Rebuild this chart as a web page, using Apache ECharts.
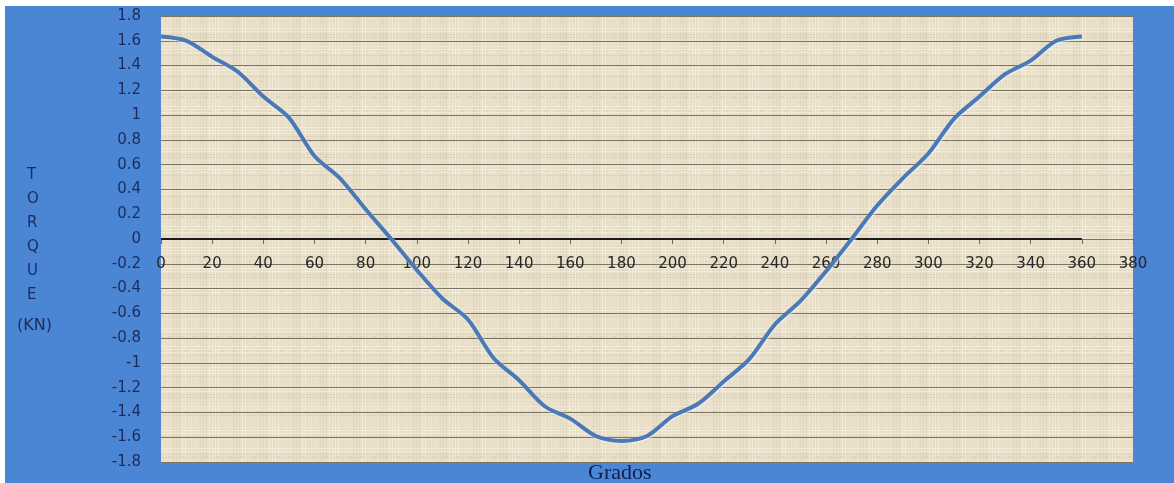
<!DOCTYPE html>
<html>
<head>
<meta charset="utf-8">
<script src="https://cdn.jsdelivr.net/npm/echarts@6/dist/echarts.min.js"></script>
<style>
  html, body { margin: 0; padding: 0; background: #ffffff; }
  #chart { position: absolute; left: 5px; top: 6px; width: 1169px; height: 477px; }
</style>
</head>
<body>
<div id="chart"></div>
<script>
// ---- data ----
const degrees = [0, 10, 20, 30, 40, 50, 60, 70, 80, 90, 100, 110, 120, 130, 140, 150, 160, 170, 180,
                 190, 200, 210, 220, 230, 240, 250, 260, 270, 280, 290, 300, 310, 320, 330, 340, 350, 360];
const torque = [1.635, 1.60, 1.47, 1.35, 1.15, 0.98, 0.67, 0.49, 0.24, 0.0, -0.25, -0.48, -0.65, -0.96,
                -1.14, -1.35, -1.45, -1.59, -1.63, -1.59, -1.43, -1.33, -1.15, -0.97, -0.69, -0.50,
                -0.26, 0.0, 0.27, 0.49, 0.69, 0.97, 1.15, 1.33, 1.44, 1.60, 1.635];
const xTicks = { min: 0, max: 380, step: 20 };
const yTicks = { min: -1.8, max: 1.8, step: 0.2 };
const zeroAxisSpan = [0, 360];       // black axis line drawn from 0 to 360 at torque 0
const yTitleLetters = ['T', 'O', 'R', 'Q', 'U', 'E'];
const yTitleUnit = '(KN)';
const xTitle = 'Grados';

// ---- linen-like texture for the plot area (decoration only) ----
function makeTexture() {
  const c = document.createElement('canvas');
  c.width = 60; c.height = 60;
  const g = c.getContext('2d');
  g.fillStyle = '#e8dec6';
  g.fillRect(0, 0, 60, 60);
  for (let i = 0; i < 60; i += 3) {
    const k = (i * 7) % 11;
    g.fillStyle = k < 4 ? 'rgba(255,252,244,0.40)' : (k < 7 ? 'rgba(175,168,150,0.12)' : 'rgba(246,240,226,0.25)');
    g.fillRect(i, 0, 1, 60);
    const m = (i * 5) % 13;
    g.fillStyle = m < 5 ? 'rgba(255,252,244,0.40)' : (m < 8 ? 'rgba(170,162,145,0.15)' : 'rgba(242,236,220,0.25)');
    g.fillRect(0, i + 1, 60, 1);
  }
  for (let i = 0; i < 60; i += 4) {
    for (let j = 0; j < 60; j += 5) {
      if (((i * 3 + j * 7) % 9) === 0) {
        g.fillStyle = 'rgba(150,145,130,0.25)';
        g.fillRect(i, j, 2, 1);
      }
    }
  }
  return c;
}

const chart = echarts.init(document.getElementById('chart'), null, { renderer: 'canvas' });
const curve = degrees.map((d, i) => [d, torque[i]]);
const zeroLine = zeroAxisSpan.map(d => [d, 0]);

const labelFont = '"DejaVu Sans", sans-serif';
const gridBox = { left: 156, top: 10, right: 41, bottom: 21 };
const plotHeight = 477 - gridBox.top - gridBox.bottom;
// x axis sits where torque = 0 (middle of the symmetric y range)
const xAxisOffset = -plotHeight * (0 - yTicks.min) / (yTicks.max - yTicks.min);

chart.setOption({
  backgroundColor: '#4b86d5',
  animation: false,
  grid: Object.assign({
    show: true,
    backgroundColor: { image: makeTexture(), repeat: 'repeat' },
    borderWidth: 0
  }, gridBox),
  xAxis: {
    type: 'value',
    position: 'bottom',
    offset: xAxisOffset,
    min: xTicks.min, max: xTicks.max, interval: xTicks.step,
    axisLine: { show: false, onZero: false },
    axisTick: { show: true, length: 5, lineStyle: { color: '#6e6a60', width: 1 } },
    axisLabel: { color: '#262626', fontSize: 15, fontFamily: labelFont, margin: 18 },
    splitLine: { show: false }
  },
  yAxis: {
    type: 'value',
    min: yTicks.min, max: yTicks.max, interval: yTicks.step,
    axisLine: { show: false },
    axisTick: { show: false },
    axisLabel: {
      color: '#1c2b5e', fontSize: 15, fontFamily: labelFont, margin: 20,
      formatter: v => String(+v.toFixed(1))
    },
    splitLine: { show: true, lineStyle: { color: '#7c7566', width: 1 } }
  },
  graphic: [
    {
      type: 'text', left: 37 - 5 - 10, top: 163 - 6,
      style: {
        text: yTitleLetters.join('\n'), fill: '#1c2b5e', font: '15px ' + labelFont,
        lineHeight: 24, align: 'center', width: 20
      }
    },
    {
      type: 'text', left: 17 - 5, top: 318 - 6,
      style: { text: yTitleUnit, fill: '#1c2b5e', font: '16px ' + labelFont }
    },
    {
      type: 'text', left: 588 - 5, top: 462 - 6,
      style: { text: xTitle, fill: '#0f1f4f', font: '22px "Liberation Serif", serif' }
    }
  ],
  series: [
    {
      type: 'line',
      data: zeroLine,
      symbol: 'none',
      silent: true,
      lineStyle: { color: '#1a1a1a', width: 2 },
      z: 1
    },
    {
      type: 'line',
      data: curve,
      smooth: 0.3,
      symbol: 'none',
      lineStyle: { color: '#4a79b6', width: 4, shadowColor: 'rgba(235,245,255,0.7)', shadowBlur: 2, shadowOffsetX: 1, shadowOffsetY: 1 },
      z: 3
    }
  ]
});
</script>
</body>
</html>
